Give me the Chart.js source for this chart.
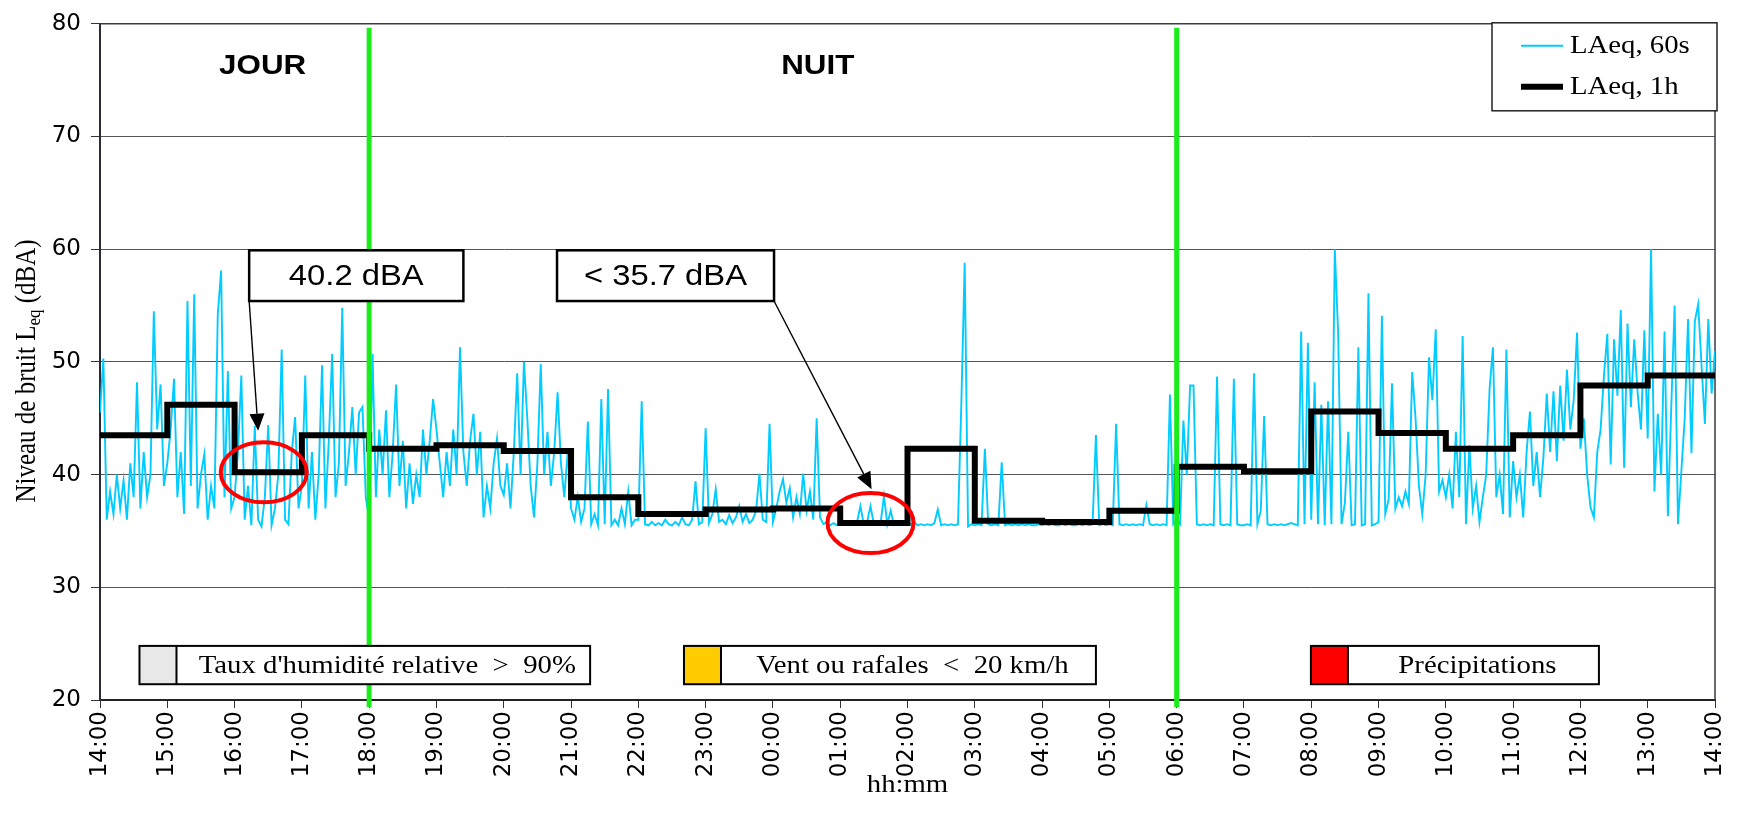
<!DOCTYPE html>
<html lang="fr">
<head>
<meta charset="utf-8">
<title>Niveau de bruit LAeq</title>
<script src="https://cdn.jsdelivr.net/npm/chart.js@4.4.1/dist/chart.umd.min.js"></script>
<style>
html,body{margin:0;padding:0;background:#fff;overflow:hidden;}
#wrap{width:1737px;height:820px;position:relative;}
canvas{display:block;}
</style>
</head>
<body>
<div id="wrap"><canvas id="chart" width="1737" height="820"></canvas></div>
<script>
// ---------------- DATA ----------------
const hourLabels = ['14:00','15:00','16:00','17:00','18:00','19:00','20:00','21:00','22:00','23:00','00:00','01:00','02:00','03:00','04:00','05:00','06:00','07:00','08:00','09:00','10:00','11:00','12:00','13:00','14:00'];

// LAeq, 1h (one value per hour, 14:00 -> 13:00)
const laeq1h = [43.5,46.2,40.2,43.5,42.3,42.6,42.1,38.0,36.5,36.9,37.0,35.7,42.3,35.9,35.8,36.8,40.7,40.3,45.6,43.7,42.3,43.5,47.9,48.8];

// LAeq, 60s (one reading every 3 minutes, one row per hour, 14:00 -> 14:00)
const sampleStepMin = 3;
const laeq60s = [
  45.5,50.3,36,38.5,36.5,40,37,39.5,36,41,38,48.2,37,42,38,40,54.5,44,48,39,            // 14h
  41,44,48.5,38,42,36.5,55.4,39,56,37,40,41.8,36,39,37,54.2,58.1,38,49.2,37,            // 15h
  38,42,48.8,36,39,35.5,44.3,36,35.4,38,44.4,35.5,37,40,51.1,36,35.6,42,45.1,37,        // 16h
  39,48.8,37,42,36,40,49.7,37,43,50.7,38,41,54.8,39,42,46,40,45.5,46,38,                // 17h
  36,50.7,38,44,40,45.7,38,42,48,39,43,37,41,37.4,40,38,44,40,43,46.7,                  // 18h
  44,41,38,42,39,44,40,51.3,42,39,43,45.4,40,43.8,36.2,39,37,41,43.2,39,                // 19h
  38.2,41,37,42,49,40,50,45,39,36.2,41,49.8,40,43.8,39,42,47.3,41,38,42,                // 20h
  37,36,38,35.8,37,44.7,35.6,36.5,35.5,46.7,35.6,47.6,35.5,36,35.5,37,35.6,38.5,35.5,36, // 21h
  36,46.5,35.6,35.5,35.8,35.5,35.7,35.5,36,35.6,35.5,35.8,35.5,36.2,35.6,35.5,36,39.4,35.6,35.8, // 22h
  44.1,35.7,36.5,38.7,35.8,36,35.6,36.4,35.7,36.2,37.2,35.8,36.5,35.7,36,36.8,40.1,36,35.8,44.5, // 23h
  35.8,37,38.5,39.6,37.5,38.8,36.2,38,36.5,40.1,36.8,38.5,36,45,36.2,35.6,35.8,35.5,35.7,35.5,   // 00h
  35.6,35.5,35.7,35.5,35.6,35.8,37.2,35.6,35.8,37.2,35.6,35.5,35.7,38.1,35.6,36.8,35.5,35.6,35.5,35.6, // 01h
  35.5,35.6,35.8,35.5,35.6,35.5,35.6,35.5,35.7,36.9,35.5,35.6,35.5,35.6,35.5,35.6,46.3,58.8,35.4,35.6, // 02h
  35.5,35.6,35.5,42.3,35.6,35.5,35.6,35.5,41.1,35.5,35.6,35.5,35.6,35.5,35.6,35.5,35.6,35.5,35.5,35.6, // 03h
  35.5,35.6,35.5,35.6,35.5,35.5,35.6,35.5,35.6,35.5,35.5,35.6,35.5,35.6,35.5,35.6,43.5,35.5,35.6,35.5, // 04h
  35.6,35.5,44.5,35.6,35.5,35.6,35.5,35.6,35.5,35.6,35.5,37.3,35.6,35.5,35.6,35.5,35.6,35.5,47.1,35.6, // 05h
  36,35.6,44.8,40,47.9,47.9,35.6,35.5,35.6,35.5,35.6,35.5,48.7,35.6,35.5,35.6,35.5,48.5,35.6,35.5,     // 06h
  35.5,35.6,35.5,49,35.6,36.8,45.2,35.6,35.5,35.6,35.5,35.6,35.5,35.6,35.7,35.6,35.5,52.7,35.6,51.7,   // 07h
  36,48.2,35.6,46.2,35.5,46.5,35.6,60,52.5,35.6,37.5,43.8,35.5,35.6,51.3,35.5,35.6,56.1,35.5,35.6,     // 08h
  35.8,54.1,36.5,37.8,48.1,37,38,37.2,38.5,37.4,49.1,45,39,36.5,40,50.4,46.6,52.9,38.5,39.5,           // 09h
  38,40,37,43.8,38,52.3,35.6,42.6,37,39,35.8,38,40,47.6,51.3,38,40,36.5,51.1,36.2,                     // 10h
  41.2,38,40,36.2,42,45.6,39,42,38,41.5,47.2,42,47.4,41.2,47.9,43,49.3,44,46.6,52.6,                   // 11h
  42.3,45,40,37.1,36.2,42,44,48.8,52.5,40.9,52,47,54.6,40.6,53.4,46,52,47.3,44,52.8,                   // 12h
  43.2,60,38.5,45.4,40,52.7,36.3,46,55,35.6,40.3,45,53.8,41.9,53.6,55.1,49.7,44.5,53.8,47.2,           // 13h
  51                                                                                                    // 14:00
];

// period boundaries (minutes after 14:00) and period labels
const periodBoundaries = [240, 960];
const periodLabels = ['JOUR', 'NUIT'];
const periodLabelAt = [145, 640];

// annotation texts and the levels they point at
const annotationTexts = ['40.2 dBA', '< 35.7 dBA'];
const annotationLevels = [40.2, 35.7];
const annotationMinutes = [146, 687];

// condition legend texts
const conditionTexts = ["Taux d'humidité relative  >  90%", 'Vent ou rafales  <  20 km/h', 'Précipitations'];

// ---------------- BUILD ----------------
const pts60 = laeq60s.map((v, i) => ({ x: i * sampleStepMin, y: v }));
const pts1h = laeq1h.concat([laeq1h[laeq1h.length - 1]]).map((v, i) => ({ x: i * 60, y: v }));

const SERIF = '"Liberation Serif", "Times New Roman", serif';
const SANS = '"Liberation Sans", Arial, sans-serif';
const TICKFONT = '"DejaVu Sans", "Liberation Sans", sans-serif';

function txt(ctx, s, x, y, font, align, sx) {
  ctx.save();
  ctx.translate(x, y);
  ctx.scale(sx || 1, 1);
  ctx.font = font;
  ctx.textAlign = align || 'center';
  ctx.textBaseline = 'middle';
  ctx.fillStyle = '#000';
  ctx.fillText(s, 0, 0);
  ctx.restore();
}

// annotation geometry (styles/positions, not data)
const annGeom = [
  { boxFrom: 133, boxTo: 324, boxTop: 59.9, boxBottom: 55.4, corner: 'left', tipX: 141, tipY: 43.9 },
  { boxFrom: 407.5, boxTo: 601, boxTop: 59.9, boxBottom: 55.4, corner: 'right', tipX: 688, tipY: 38.7 }
];
const condGeom = [
  { from: 35.2, to: 437, swatch: '#E8E8E8' },
  { from: 520.7, to: 888, swatch: '#FFCC00' },
  { from: 1079.7, to: 1336.5, swatch: '#FF0000' }
];

const decorPlugin = {
  id: 'decor',
  beforeDatasetsDraw(chart) {
    const { ctx, chartArea: a } = chart;
    ctx.save();
    ctx.strokeStyle = '#3a3a48';
    ctx.lineWidth = 1.5;
    ctx.beginPath();
    ctx.moveTo(a.left, a.top);
    ctx.lineTo(a.right, a.top);
    ctx.lineTo(a.right, a.bottom);
    ctx.stroke();
    ctx.restore();
  },
  afterDatasetsDraw(chart) {
    const { ctx, chartArea: a, scales: { x, y } } = chart;
    ctx.save();

    // green day/night boundaries
    ctx.strokeStyle = '#1AEE1A';
    ctx.lineWidth = 5;
    periodBoundaries.forEach(m => {
      const px = x.getPixelForValue(m);
      ctx.beginPath();
      ctx.moveTo(px, a.top + 4);
      ctx.lineTo(px, a.bottom + 7);
      ctx.stroke();
    });

    // JOUR / NUIT
    periodLabels.forEach((t, i) => txt(ctx, t, x.getPixelForValue(periodLabelAt[i]), a.top + 42, 'bold 28px ' + SANS, 'center', 1.12));

    // annotations
    annGeom.forEach((g, i) => {
      const l = x.getPixelForValue(g.boxFrom), r = x.getPixelForValue(g.boxTo);
      const t = y.getPixelForValue(g.boxTop), b = y.getPixelForValue(g.boxBottom);
      ctx.strokeStyle = '#FF0000';
      ctx.lineWidth = 4;
      ctx.beginPath();
      ctx.ellipse(x.getPixelForValue(annotationMinutes[i]), y.getPixelForValue(annotationLevels[i]), 43, 30, 0, 0, Math.PI * 2);
      ctx.stroke();
      const sx0 = g.corner === 'left' ? l : r, sy0 = b;
      const tx = x.getPixelForValue(g.tipX), ty = y.getPixelForValue(g.tipY);
      const ang = Math.atan2(ty - sy0, tx - sx0);
      const hl = 17, hw = 7.5;
      const bx = tx - hl * Math.cos(ang), by = ty - hl * Math.sin(ang);
      ctx.strokeStyle = '#000';
      ctx.lineWidth = 1.4;
      ctx.beginPath();
      ctx.moveTo(sx0, sy0);
      ctx.lineTo(bx, by);
      ctx.stroke();
      ctx.fillStyle = '#000';
      ctx.beginPath();
      ctx.moveTo(tx, ty);
      ctx.lineTo(bx + hw * Math.sin(ang), by - hw * Math.cos(ang));
      ctx.lineTo(bx - hw * Math.sin(ang), by + hw * Math.cos(ang));
      ctx.closePath();
      ctx.fill();
      ctx.fillStyle = '#fff';
      ctx.fillRect(l, t, r - l, b - t);
      ctx.strokeStyle = '#000';
      ctx.lineWidth = 2.5;
      ctx.strokeRect(l, t, r - l, b - t);
      txt(ctx, annotationTexts[i], (l + r) / 2, (t + b) / 2 + 1, '29px ' + SANS, 'center', 1.13);
    });

    // condition boxes at bottom
    const ct = y.getPixelForValue(24.8), cb = y.getPixelForValue(21.4);
    condGeom.forEach((g, i) => {
      const l = x.getPixelForValue(g.from), r = x.getPixelForValue(g.to);
      ctx.fillStyle = '#fff';
      ctx.fillRect(l, ct, r - l, cb - ct);
      ctx.fillStyle = g.swatch;
      ctx.fillRect(l, ct, 37, cb - ct);
      ctx.strokeStyle = '#000';
      ctx.lineWidth = 2;
      ctx.strokeRect(l, ct, r - l, cb - ct);
      ctx.beginPath();
      ctx.moveTo(l + 37, ct);
      ctx.lineTo(l + 37, cb);
      ctx.stroke();
      txt(ctx, conditionTexts[i], (l + 37 + r) / 2 + 4, (ct + cb) / 2 + 1, '25px ' + SERIF, 'center', 1.15);
    });

    // legend (top right)
    const lgL = a.right - 223, lgT = a.top - 1, lgW = 225, lgH = 88;
    ctx.fillStyle = '#fff';
    ctx.fillRect(lgL, lgT, lgW, lgH);
    ctx.strokeStyle = '#222';
    ctx.lineWidth = 1.5;
    ctx.strokeRect(lgL, lgT, lgW, lgH);
    chart.data.datasets.forEach((ds, i) => {
      const ly = lgT + 23 + i * 41;
      ctx.strokeStyle = ds.borderColor;
      ctx.lineWidth = ds.borderWidth;
      ctx.beginPath();
      ctx.moveTo(lgL + 29, ly);
      ctx.lineTo(lgL + 71, ly);
      ctx.stroke();
      txt(ctx, ds.label, lgL + 78, ly + 1, '25px ' + SERIF, 'left', 1.15);
    });

    // axis titles
    txt(ctx, 'hh:mm', (a.left + a.right) / 2, 785, '25px ' + SERIF, 'center', 1.15);
    ctx.save();
    ctx.translate(27, 371);
    ctx.scale(1.15, 1);
    ctx.rotate(-Math.PI / 2);
    ctx.fillStyle = '#000';
    ctx.textBaseline = 'middle';
    ctx.textAlign = 'left';
    const p1 = 'Niveau de bruit L', p2 = 'eq', p3 = ' (dBA)';
    const fMain = '25px ' + SERIF, fSub = '17px ' + SERIF;
    ctx.font = fMain; const w1 = ctx.measureText(p1).width, w3 = ctx.measureText(p3).width;
    ctx.font = fSub; const w2 = ctx.measureText(p2).width;
    let cx = -(w1 + w2 + w3) / 2;
    ctx.font = fMain; ctx.fillText(p1, cx, 0); cx += w1;
    ctx.font = fSub; ctx.fillText(p2, cx, 7); cx += w2;
    ctx.font = fMain; ctx.fillText(p3, cx, 0);
    ctx.restore();

    ctx.restore();
  }
};

new Chart(document.getElementById('chart'), {
  type: 'line',
  data: {
    datasets: [
      { label: 'LAeq, 60s', data: pts60, borderColor: '#00CCFF', borderWidth: 1.9, pointRadius: 0, tension: 0, order: 1 },
      { label: 'LAeq, 1h', data: pts1h, borderColor: '#000000', borderWidth: 6, pointRadius: 0, stepped: 'before', order: 0 }
    ]
  },
  options: {
    responsive: false,
    animation: false,
    events: [],
    layout: { padding: { top: 20, right: 22, left: 0, bottom: 0 } },
    plugins: { legend: { display: false }, tooltip: { enabled: false } },
    scales: {
      x: {
        type: 'linear', min: 0, max: 1440,
        ticks: {
          stepSize: 60, autoSkip: false, maxRotation: 90, minRotation: 90,
          callback: v => hourLabels[Math.round(v / 60)],
          font: { family: TICKFONT, size: 23 }, color: '#000', padding: 3
        },
        grid: { drawOnChartArea: false, drawTicks: true, tickLength: 8, tickColor: '#333', tickWidth: 1 },
        border: { color: '#222', width: 2 },
        afterFit(s) { s.height = 120; s.paddingRight = 0; s.paddingLeft = 0; }
      },
      y: {
        min: 20, max: 80,
        ticks: { stepSize: 10, font: { family: TICKFONT, size: 23 }, color: '#000', padding: 10 },
        grid: { color: '#555', lineWidth: 1, tickLength: 9, tickColor: '#333' },
        border: { color: '#2a2a3a', width: 2 },
        afterFit(s) { s.width = 100; }
      }
    }
  },
  plugins: [decorPlugin]
});
</script>
</body>
</html>
